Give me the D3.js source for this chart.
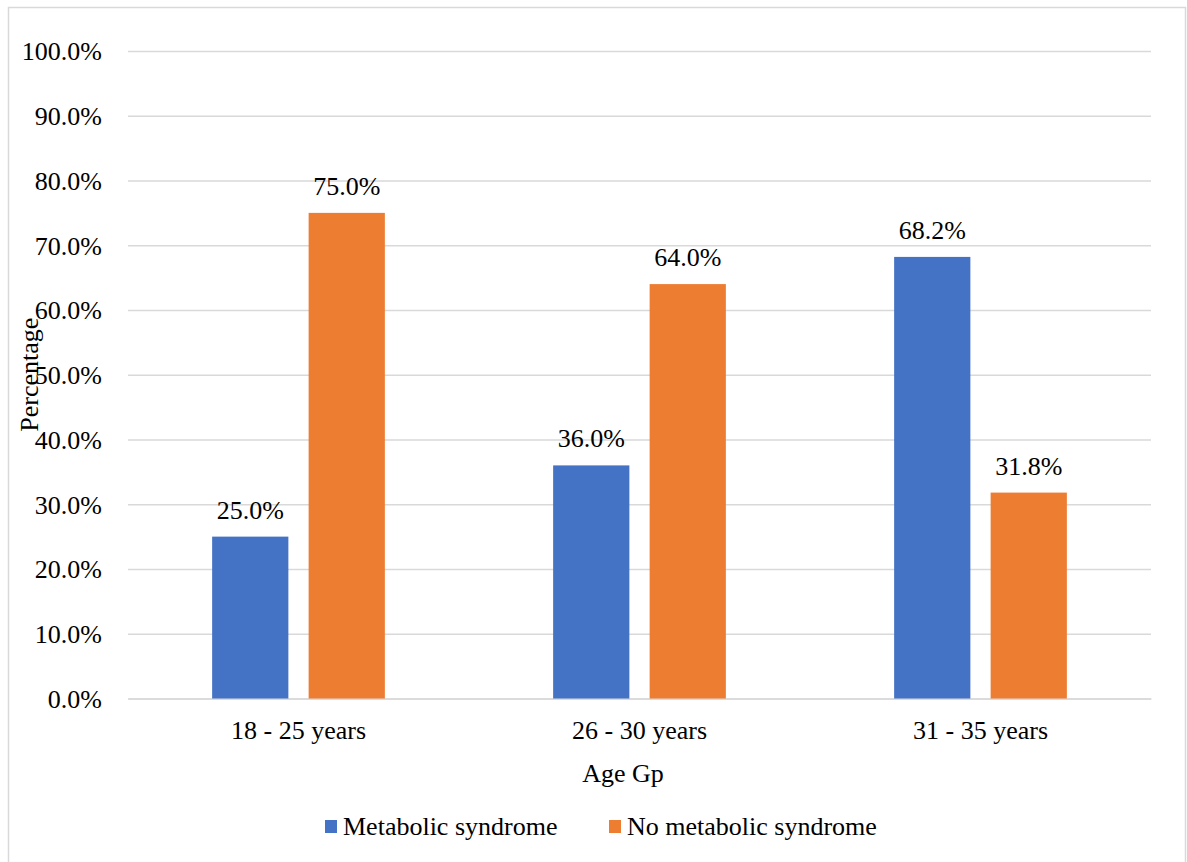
<!DOCTYPE html>
<html>
<head>
<meta charset="utf-8">
<script src="https://cdn.jsdelivr.net/npm/d3@7"></script>
<style>
  html, body { margin: 0; padding: 0; background: #fff; }
  svg { display: block; }
  svg text { font-family: "Liberation Serif", Tinos, "Times New Roman", Times, "DejaVu Serif", serif !important; fill: #000; }
</style>
</head>
<body>
<svg id="chart" width="1187" height="862"></svg>
<script>
// Age groups and the share of each group with / without metabolic syndrome (%)
const categories = ["18 - 25 years", "26 - 30 years", "31 - 35 years"];
const seriesNames = ["Metabolic syndrome", "No metabolic syndrome"];
const metabolic = [25.0, 36.0, 68.2];
const noMetabolic = [75.0, 64.0, 31.8];
const yTicks = [0, 10, 20, 30, 40, 50, 60, 70, 80, 90, 100];
const colors = ["#4472C4", "#ED7D31"];

const seriesValues = [metabolic, noMetabolic];
const rows = categories.map((c, i) => ({
  category: c,
  values: seriesNames.map((s, j) => ({ series: s, value: seriesValues[j][i] }))
}));

const svg = d3.select("#chart");
const fontSize = 26;

// outer frame
svg.append("rect")
  .attr("x", 8.5).attr("y", 7.5)
  .attr("width", 1177).attr("height", 870)
  .attr("fill", "none").attr("stroke", "#d9d9d9").attr("stroke-width", 1.5);

const plot = { left: 128, right: 1151, top: 51, bottom: 698.5 };

const y = d3.scaleLinear().domain([0, 100]).range([plot.bottom, plot.top]);
const x0 = d3.scaleBand().domain(categories).range([plot.left, plot.right]).padding(0);
const x1 = d3.scaleBand().domain(seriesNames).range([0, x0.bandwidth()])
  .paddingInner(0.21).paddingOuter(0.872);
const color = d3.scaleOrdinal().domain(seriesNames).range(colors);

// gridlines + value labels via a left axis
const yAxis = d3.axisLeft(y)
  .tickValues(yTicks)
  .tickSize(-(plot.right - plot.left))
  .tickPadding(26)
  .tickFormat(d => d.toFixed(1) + "%");

const gy = svg.append("g")
  .attr("transform", `translate(${plot.left},0)`)
  .call(yAxis)
  .attr("font-family", null);
gy.select(".domain").remove();
gy.selectAll(".tick line").attr("stroke", "#d9d9d9").attr("stroke-width", 1.5);
gy.selectAll(".tick text")
  .attr("font-size", fontSize)
  .attr("fill", "#000")
  .attr("dy", "0.34em");

// category axis
const xAxis = d3.axisBottom(x0).tickSize(0).tickPadding(22);
const gx = svg.append("g")
  .attr("transform", `translate(0,${plot.bottom})`)
  .call(xAxis)
  .attr("font-family", null);
gx.select(".domain").attr("stroke", "#d9d9d9").attr("stroke-width", 1.5);
gx.selectAll(".tick text")
  .attr("font-size", fontSize)
  .attr("fill", "#000");

// bars
const groups = svg.append("g").selectAll("g")
  .data(rows).join("g")
  .attr("transform", d => `translate(${x0(d.category)},0)`);

groups.selectAll("rect")
  .data(d => d.values).join("rect")
  .attr("x", d => x1(d.series))
  .attr("width", x1.bandwidth())
  .attr("y", d => y(d.value))
  .attr("height", d => y(0) - y(d.value))
  .attr("fill", d => color(d.series));

groups.selectAll("text.value")
  .data(d => d.values).join("text")
  .attr("class", "value")
  .attr("x", d => x1(d.series) + x1.bandwidth() / 2)
  .attr("y", d => y(d.value) - 18)
  .attr("text-anchor", "middle")
  .attr("font-size", fontSize)
  .text(d => d.value.toFixed(1) + "%");

// axis titles
svg.append("text")
  .attr("transform", `translate(38,${(plot.top + plot.bottom) / 2}) rotate(-90)`)
  .attr("text-anchor", "middle")
  .attr("font-size", fontSize)
  .text("Percentage");

svg.append("text")
  .attr("x", 623).attr("y", 782)
  .attr("text-anchor", "middle")
  .attr("font-size", fontSize)
  .text("Age Gp");

// legend
const legendItems = [
  { name: seriesNames[0], x: 325 },
  { name: seriesNames[1], x: 609 }
];
const legend = svg.append("g").selectAll("g")
  .data(legendItems).join("g")
  .attr("transform", d => `translate(${d.x},820)`);
legend.append("rect")
  .attr("width", 12).attr("height", 13)
  .attr("fill", d => color(d.name));
legend.append("text")
  .attr("x", 18).attr("y", 15)
  .attr("font-size", fontSize)
  .text(d => d.name);
</script>
</body>
</html>
